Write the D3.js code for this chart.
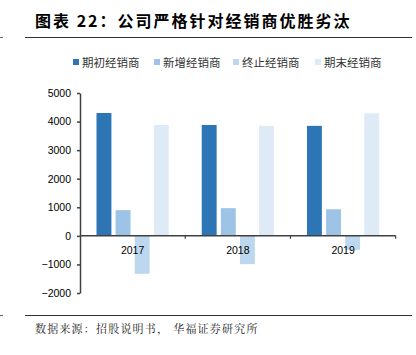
<!DOCTYPE html>
<html><head><meta charset="utf-8">
<script src="https://cdn.jsdelivr.net/npm/d3@7"></script>
<style>body{margin:0;background:#fff;}svg{display:block;}</style>
</head><body>
<script>
const categories = ["2017", "2018", "2019"];
const seriesNames = ["期初经销商", "新增经销商", "终止经销商", "期末经销商"];
const startVals = [4300, 3880, 3850];
const newVals = [900, 970, 930];
const endedVals = [-1330, -990, -490];
const finalVals = [3880, 3850, 4290];
const yTicks = [-2000, -1000, 0, 1000, 2000, 3000, 4000, 5000];
const colors = ["#2E75B6", "#9DC3E6", "#BDD7EE", "#DEEBF7"];
const series = [startVals, newVals, endedVals, finalVals];

const W = 416, H = 355;
const svg = d3.select("body").append("svg").attr("width", W).attr("height", H);
const font = "'Noto Sans CJK SC', sans-serif";

// title
svg.append("text").attr("x", 35).attr("y", 27).attr("font-family", font).attr("font-weight", "bold")
  .attr("font-size", 16).attr("letter-spacing", 2).attr("fill", "#000").text("图表 22：公司严格针对经销商优胜劣汰");
svg.append("line").attr("x1", 25).attr("x2", 412).attr("y1", 37.5).attr("y2", 37.5).attr("stroke", "#333").attr("stroke-width", 1);
svg.append("line").attr("x1", 0).attr("x2", 3).attr("y1", 37.5).attr("y2", 37.5).attr("stroke", "#666").attr("stroke-width", 1);

// legend
const legX = [73, 154, 233, 315];
seriesNames.forEach((n, i) => {
  svg.append("rect").attr("x", legX[i]).attr("y", 59).attr("width", 6).attr("height", 6).attr("fill", colors[i]);
  svg.append("text").attr("x", legX[i] + 9).attr("y", 66.5).attr("font-family", font).attr("font-size", 11.5)
    .attr("fill", "#333").text(n);
});

const x0 = d3.scaleBand().domain(categories).range([80, 395.7]).paddingInner(0).paddingOuter(0);
const x1 = d3.scaleBand().domain(d3.range(4)).range([16.5, x0.bandwidth() - 16.5]).paddingInner(0.22);
const y = d3.scaleLinear().domain([-2000, 5000]).range([293, 93]);

const g = svg.append("g");
series.forEach((vals, si) => {
  g.selectAll(null).data(vals).enter().append("rect")
    .attr("x", (d, i) => x0(categories[i]) + x1(si))
    .attr("width", x1.bandwidth())
    .attr("y", d => y(Math.max(0, d)))
    .attr("height", d => Math.abs(y(d) - y(0)))
    .attr("fill", colors[si]);
});

// y axis
const yAxis = d3.axisLeft(y).tickValues(yTicks).tickSize(3).tickSizeOuter(0).tickFormat(d3.format("d"));
const ya = svg.append("g").attr("transform", "translate(80,0)").call(yAxis);
ya.select(".domain").attr("stroke", "#404040").attr("stroke-width", 1.5);
ya.selectAll(".tick line").attr("stroke", "#404040").attr("stroke-width", 1.5);
ya.selectAll(".tick text").attr("font-family", "'Liberation Sans', Arial, sans-serif").attr("font-size", 10.5).attr("fill", "#000").attr("x", -9);

// x axis at zero
const xa = svg.append("g").attr("transform", `translate(0,${y(0)})`);
xa.append("line").attr("x1", 80).attr("x2", 395.7).attr("stroke", "#404040").attr("stroke-width", 1.5);
categories.forEach(c => {
  const bx = x0(c) + x0.bandwidth();
  xa.append("line").attr("x1", bx).attr("x2", bx).attr("y1", 0).attr("y2", 3).attr("stroke", "#404040").attr("stroke-width", 1.2);
  xa.append("text").attr("x", x0(c) + x0.bandwidth() / 2).attr("y", 18).attr("text-anchor", "middle")
    .attr("font-family", "'Liberation Sans', Arial, sans-serif").attr("font-size", 10.5).attr("fill", "#000").text(c);
});

// bottom rule and source
svg.append("line").attr("x1", 25).attr("x2", 412).attr("y1", 315.5).attr("y2", 315.5).attr("stroke", "#333").attr("stroke-width", 1);
svg.append("line").attr("x1", 0).attr("x2", 3).attr("y1", 315.5).attr("y2", 315.5).attr("stroke", "#666").attr("stroke-width", 1);
svg.append("text").attr("x", 35).attr("y", 333).attr("font-family", "'Noto Serif CJK SC', 'Noto Sans CJK SC', serif")
  .attr("font-size", 11).attr("letter-spacing", 1.2).attr("fill", "#222").text("数据来源：招股说明书， 华福证券研究所");
</script>
</body></html>
